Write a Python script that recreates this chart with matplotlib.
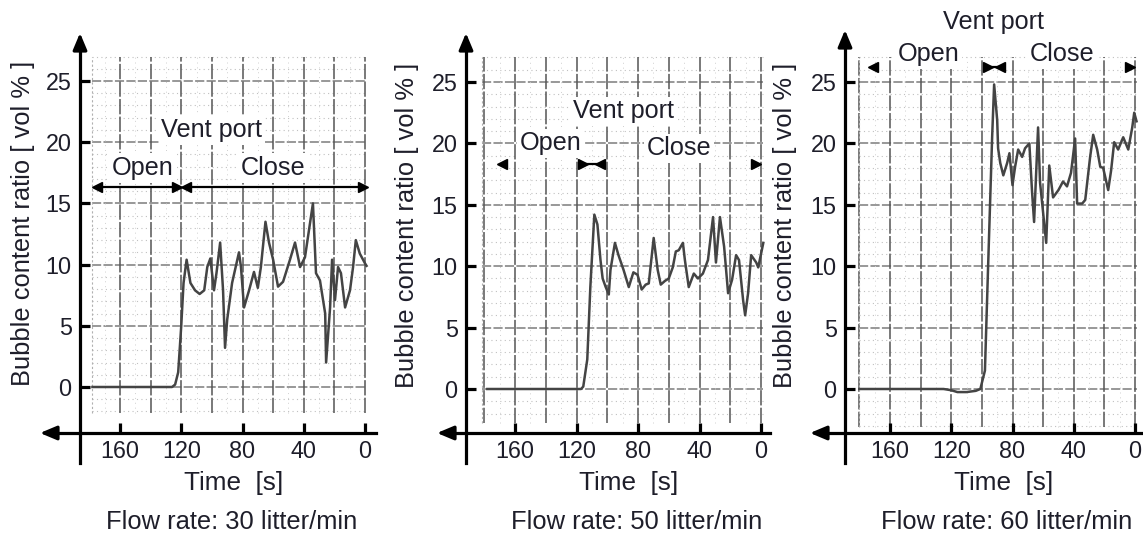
import matplotlib
matplotlib.use('Agg')
import matplotlib.pyplot as plt
import numpy as np

plt.rcParams['font.family'] = ['Liberation Sans', 'DejaVu Sans']

W, H = 1143, 535
TXT = '#1e1e2a'
LINE = '#444444'

# --- data (time counts down to 0 s) ---
flow_rates = [30, 50, 60]

t1 = [178, 126, 124, 122, 120, 118.5, 116.5, 114, 111, 108, 105, 103, 101, 98.6, 97,
      94.6, 92.7, 91.4, 90, 86.8, 82.3, 81, 79, 75.7, 72.5, 70, 68, 65, 62.7, 60,
      56.8, 53.5, 49, 45.7, 42.4, 39.2, 34, 32, 29.4, 26, 25.4, 22.8, 21.5, 19.6,
      17.6, 15.7, 13, 9.8, 7.8, 6, 3.4, 0, -1]
v1 = [0, 0, 0.2, 1.2, 5, 8.5, 10.4, 8.5, 7.9, 7.6, 7.9, 9.8, 10.5, 7.9, 9.3,
      11.8, 7.9, 3.2, 5.5, 8.5, 11.0, 9.8, 6.5, 7.9, 9.4, 8.1, 9.8, 13.5, 11.8, 10.4,
      8.2, 8.6, 10.4, 11.8, 9.8, 10.6, 15.0, 9.3, 8.7, 6.0, 2.0, 6.5, 10.4, 7.1,
      9.8, 9.3, 6.5, 7.9, 9.8, 12.0, 10.9, 10.1, 9.9]

t2 = [178, 117, 115.6, 113, 111, 108.4, 106.4, 104.4, 103, 101, 99, 97.9, 95, 92.7,
      89.4, 86, 83, 80.3, 77.6, 75, 73, 69.8, 67.2, 65.2, 62.5, 60, 57.4, 55.4, 53.5,
      50.8, 49.5, 47, 43.7, 41, 37.8, 34.5, 31.2, 29.3, 26.7, 24, 21.4, 18.8, 16.2,
      14.3, 11.6, 10.3, 8.4, 6.4, 3.1, 1.8, -1.5]
v2 = [0, 0, 0.2, 2.4, 8.3, 14.2, 13.4, 10.5, 9.0, 8.3, 7.7, 9.7, 11.9, 10.9,
      9.7, 8.3, 9.5, 9.3, 8.1, 8.5, 8.6, 12.3, 9.7, 8.5, 8.8, 9.0, 9.9, 11.2, 11.3,
      11.9, 10.5, 8.3, 9.4, 9.0, 9.4, 10.5, 14.0, 10.3, 14.0, 11.6, 7.8, 8.9, 10.9,
      10.5, 7.2, 6.0, 7.8, 10.9, 10.3, 9.9, 11.9]

t3 = [180, 125, 120, 116, 110, 104, 101, 98, 96, 93.3, 92, 90, 89.4, 88, 86, 83.5,
      82, 80, 78.3, 76.3, 73.7, 71.8, 69, 67.2, 65.9, 63.3, 62, 58, 56, 53.5, 50, 47,
      44.4, 41.8, 39.1, 37.8, 34.5, 32.5, 29.3, 27.3, 24.7, 22.7, 20.8, 17.5, 15.6,
      13.6, 11, 7.7, 4.4, 1.8, 0.5, -1]
v3 = [0, 0, -0.1, -0.25, -0.25, -0.15, 0, 1.5, 9.7, 20.5, 24.8, 21.9, 19.6, 18.4,
      17.4, 18.4, 19.2, 16.6, 18.1, 19.5, 18.9, 19.6, 20.0, 16.0, 13.6, 21.3, 16.8,
      11.9, 18.2, 15.6, 16.2, 16.9, 16.5, 17.6, 20.4, 15.1, 15.1, 15.4, 18.9, 20.7,
      19.5, 18.1, 18.0, 16.2, 17.8, 20.1, 19.5, 20.5, 19.5, 21.3, 22.5, 21.8]

series = [(t1, v1), (t2, v2), (t3, v3)]

x_ticks = [160, 120, 80, 40, 0]
y_ticks = [0, 5, 10, 15, 20, 25]

# --- pixel layout of each panel ---
layouts = [
    dict(box=(0, 380), px160=120, px0=365, py0=387, py25=81, spine=80, tip=40,
         right=376, top=33, gl=178, gb=-2.1, ylab=(23, 223), flow=232,
         vent=(100, 21.0), opn=(145, 17.9), cls=(60, 17.9), arr_y=16.3,
         heads=(175, 123, 117, 1), full=True),
    dict(box=(380, 770), px160=515, px0=761, py0=389, py25=82, spine=466, tip=437,
         right=770, top=33, gl=181.5, gb=-2.8, ylab=(407, 225), flow=637,
         vent=(89.4, 22.6), opn=(137, 20.0), cls=(53.5, 19.6), arr_y=18.3,
         heads=(168.5, 115.6, 104.5, 3), full=False),
    dict(box=(770, 1143), px160=890, px0=1135, py0=389, py25=82, spine=845, tip=810,
         right=1143, top=30, gl=180, gb=-3.1, ylab=(785, 225), flow=1007,
         vent=(92.7, 29.9), opn=(135, 27.3), cls=(47.6, 27.3), arr_y=26.2,
         heads=(171, 96, 88, 3), full=False),
]

fig = plt.figure(figsize=(W / 100, H / 100), dpi=100)

for (t, v), lay, fr in zip(series, layouts, flow_rates):
    def t_at(px, lay=lay):
        return 160 * (lay['px0'] - px) / (lay['px0'] - lay['px160'])

    def v_at(py, lay=lay):
        return 25 * (lay['py0'] - py) / (lay['py0'] - lay['py25'])

    L, R = lay['box']
    ax = fig.add_axes([L / W, 0, (R - L) / W, 1])
    ax.patch.set_alpha(0)
    ax.set_xlim(t_at(L), t_at(R))
    ax.set_ylim(v_at(H), v_at(0))

    # chart paper grid
    gt, gb = 27.0, lay['gb']
    gl, gr = lay['gl'], -1.5
    for yy in np.arange(-3, 28, 1):
        if yy < gb or yy > gt:
            continue
        if yy % 5 == 0:
            ax.plot([gl, gr], [yy, yy], color='#7c7c7c', lw=1.1, ls=(0, (6, 1.5)), zorder=1)
        else:
            ax.plot([gl, gr], [yy, yy], color='#c0c0c0', lw=0.8, ls=(0, (1, 3)), zorder=1)
    for xx in range(0, 181, 10):
        if xx > gl:
            continue
        if xx % 20 == 0:
            ax.plot([xx, xx], [gb, gt], color='#555555', lw=1.1, ls=(0, (10, 1.5)), zorder=1)
        else:
            ax.plot([xx, xx], [gb, gt], color='#d0d0d0', lw=0.7, ls=(0, (1, 4)), zorder=1)
    ax.plot([gl, gl], [gb, gt], color='#b0b0b0', lw=0.8, ls=(0, (2, 2)), zorder=1)

    # recorded trace
    ax.plot(t, v, color=LINE, lw=1.8, zorder=3, solid_joinstyle='round')

    # axes with arrow heads
    xs = t_at(lay['spine'])
    xa = v_at(433)
    for side in ['top', 'right']:
        ax.spines[side].set_visible(False)
    ax.spines['left'].set_position(('data', xs))
    ax.spines['bottom'].set_position(('data', xa))
    ax.spines['left'].set_bounds(v_at(463), v_at(lay['top'] + 10))
    ax.spines['bottom'].set_bounds(t_at(lay['right']), t_at(lay['tip'] + 10))
    for side in ['left', 'bottom']:
        ax.spines[side].set_linewidth(2.3)
        ax.spines[side].set_zorder(5)
    ax.annotate('', xy=(xs, v_at(lay['top'])), xytext=(xs, v_at(lay['top'] + 14)),
                arrowprops=dict(arrowstyle='-|>,head_length=1.0,head_width=0.42',
                                color='k', lw=2.3, shrinkA=0, shrinkB=0,
                                mutation_scale=10), zorder=6)
    ax.annotate('', xy=(t_at(lay['tip']), xa), xytext=(t_at(lay['tip'] + 14), xa),
                arrowprops=dict(arrowstyle='-|>,head_length=1.0,head_width=0.42',
                                color='k', lw=2.3, shrinkA=0, shrinkB=0,
                                mutation_scale=10), zorder=6)

    ax.set_xticks(x_ticks)
    ax.set_yticks(y_ticks)
    ax.set_xticklabels([str(x) for x in x_ticks])
    ax.set_yticklabels([str(y) for y in y_ticks])
    ax.tick_params(direction='in', length=7.5, width=2.3, labelsize=16.8,
                   labelcolor=TXT, color='k')
    ax.tick_params(axis='x', pad=5)
    ax.tick_params(axis='y', pad=6)

    # labels
    ax.text(t_at(lay['ylab'][0]), v_at(lay['ylab'][1]), 'Bubble content ratio [ vol % ]',
            rotation=90, ha='center', va='center', fontsize=18.4, color=TXT)
    ax.text(86, v_at(483), 'Time  [s]', ha='center', va='center', fontsize=18.8, color=TXT)
    ax.text(t_at(lay['flow']), v_at(522), f'Flow rate: {fr} litter/min',
            ha='center', va='center', fontsize=18.4, color=TXT)

    # vent port annotation
    box = dict(fc='white', ec='none', pad=2)
    for pos, label in [(lay['vent'], 'Vent port'), (lay['opn'], 'Open'), (lay['cls'], 'Close')]:
        ax.text(*pos, label, ha='center', va='center', fontsize=18.2,
                color=TXT, bbox=box, zorder=4)
    ay = lay['arr_y']
    h0, h1, h2, h3 = lay['heads']
    if lay['full']:
        ax.plot([h0, h1], [ay, ay], color='k', lw=1.6, zorder=4)
        ax.plot([h2, h3], [ay, ay], color='k', lw=1.6, zorder=4)
    else:
        ax.plot([h1, h2], [ay, ay], color='k', lw=1.6, zorder=4)
    ax.plot([h0, h2], [ay, ay], marker='<', ms=7, color='k', ls='none', zorder=4)
    ax.plot([h1, h3], [ay, ay], marker='>', ms=7, color='k', ls='none', zorder=4)

fig.savefig('out.png', dpi=100)
